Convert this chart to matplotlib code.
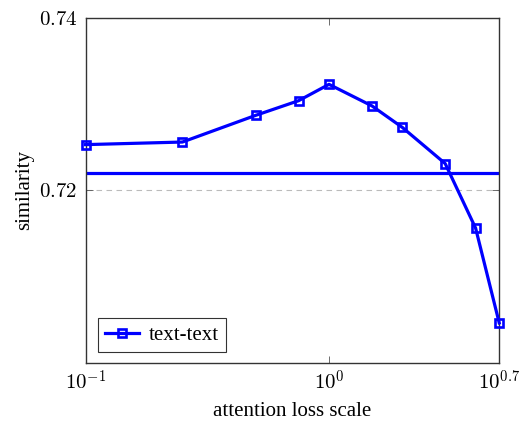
import numpy as np
import matplotlib
matplotlib.use("Agg")
import matplotlib.pyplot as plt
from matplotlib.ticker import FixedLocator, NullLocator

# --- datos ---
escala = [0.1, 0.25, 0.5, 0.75, 1.0, 1.5, 2.0, 3.0, 4.0, 5.0]
similitud = [0.7253, 0.7256, 0.7287, 0.7304, 0.7323, 0.7298, 0.7273, 0.7231, 0.7156, 0.7046]
base = 0.722
xticks = [10**-1, 10**0, 10**0.7]
xtick_labels = [r"$10^{-1}$", r"$10^{0}$", r"$10^{0.7}$"]
yticks = [0.72, 0.74]
ytick_labels = [r"$0.72$", r"$0.74$"]

plt.rcParams['mathtext.fontset'] = 'cm'
plt.rcParams['font.family'] = ['Liberation Serif', 'DejaVu Serif']

fig = plt.figure(figsize=(5.23, 4.24), dpi=100)
ax = fig.add_axes([0.1635, 0.145, 0.7915, 0.8125])

azul = '#0000ff'
ax.plot(escala, similitud, color=azul, linewidth=2.3, marker='s',
        markersize=5.2, markerfacecolor='none', markeredgewidth=1.9,
        label='text-text', zorder=3, clip_on=False)
ax.axhline(base, color=azul, linewidth=2.3, zorder=2)

ax.set_xscale('log')
ax.set_xlim(10**-1, 10**0.7)
ax.set_ylim(0.70, 0.74)
ax.xaxis.set_major_locator(FixedLocator(xticks))
ax.xaxis.set_minor_locator(NullLocator())
ax.set_xticklabels(xtick_labels)
ax.set_yticks(yticks)
ax.set_yticklabels(ytick_labels)
ax.tick_params(direction='in', top=True, right=True, labelsize=15,
               length=5, width=0.6, color='#555555', pad=6)

ax.grid(True, axis='y', linestyle=(0, (5, 4)), color='#bbbbbb', linewidth=0.8)
ax.set_axisbelow(True)

for s in ax.spines.values():
    s.set_linewidth(1.0)
    s.set_color('#333333')

ax.set_xlabel('attention loss scale', fontsize=15, labelpad=5)
ax.set_ylabel('similarity', fontsize=15, labelpad=3)

leg = ax.legend(loc='lower left', bbox_to_anchor=(0.03, 0.03), borderaxespad=0,
                fontsize=15, frameon=True, fancybox=False, edgecolor='black',
                handlelength=1.6, borderpad=0.35, handletextpad=0.5)
leg.get_frame().set_linewidth(0.8)

fig.savefig('out.png', dpi=100)
